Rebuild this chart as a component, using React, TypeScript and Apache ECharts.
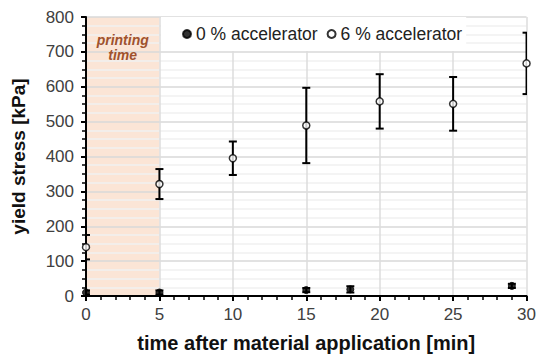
import React, { useEffect, useRef } from "react";
import * as echarts from "echarts";

// time [min] and yield stress [kPa] with symmetric error (±)
const time0 = [0, 5, 15, 18, 29];
const stress0 = [10, 10, 17, 19, 29];
const err0 = [6, 6, 6, 9, 6];

const time6 = [0, 5, 10, 15, 20, 25, 30];
const stress6 = [140, 321, 395, 489, 558, 551, 667];
const err6 = [35, 43, 48, 108, 78, 77, 88];

const printingRange = [0, 5];
const printingLabel = "printing\ntime";
const seriesNames = ["0 % accelerator", "6 % accelerator"];
const xTitle = "time after material application [min]";
const yTitle = "yield stress [kPa]";

const FONT = "'Liberation Sans', Arial, Helvetica, sans-serif";
const Y_MAX = 800;

export default function App() {
  const ref = useRef<HTMLDivElement>(null);
  useEffect(() => {
    if (!ref.current) return;
    const chart = echarts.init(ref.current, null, { renderer: "svg" });

    const errRender = (params: any, api: any) => {
      const x = api.value(0);
      const y = api.value(1);
      const e = api.value(2);
      const top = api.coord([x, y + e]);
      const bot = api.coord([x, y - e]);
      const hw = 4;
      const st = { stroke: "#000", lineWidth: 2 };
      return {
        type: "group",
        children: [
          { type: "line", shape: { x1: top[0], y1: top[1], x2: bot[0], y2: bot[1] }, style: st },
          { type: "line", shape: { x1: top[0] - hw, y1: top[1], x2: top[0] + hw, y2: top[1] }, style: st },
          { type: "line", shape: { x1: bot[0] - hw, y1: bot[1], x2: bot[0] + hw, y2: bot[1] }, style: st },
        ],
      };
    };

    chart.setOption({
      animation: false,
      grid: { left: 86, right: 9, top: 17, bottom: 65 },
      legend: {
        data: seriesNames,
        left: 161,
        top: 17,
        padding: [8, 4, 8, 21],
        backgroundColor: "#ffffff",
        itemWidth: 8,
        itemHeight: 8,
        itemGap: 9,
        icon: "circle",
        textStyle: { fontFamily: FONT, fontSize: 17.5, color: "#222" },
      },
      xAxis: {
        type: "value",
        min: 0,
        max: 30,
        interval: 5,
        name: xTitle,
        nameLocation: "middle",
        nameGap: 37,
        nameTextStyle: { fontFamily: FONT, fontSize: 20, fontWeight: "bold", color: "#111" },
        axisLine: { show: true, onZero: false, lineStyle: { color: "#000", width: 2 } },
        axisTick: { show: true, inside: false, length: 5, lineStyle: { color: "#000", width: 2 } },
        minorTick: { show: true, splitNumber: 5, length: 4, lineStyle: { color: "#000", width: 1.5 } },
        axisLabel: { fontFamily: FONT, fontSize: 17, color: "#404040", margin: 10 },
        splitLine: { show: true, lineStyle: { color: "#dcdcdc", width: 1.5 } },
        minorSplitLine: { show: false },
      },
      yAxis: {
        type: "value",
        min: 0,
        max: Y_MAX,
        interval: 100,
        name: yTitle,
        nameLocation: "middle",
        nameGap: 58,
        nameTextStyle: { fontFamily: FONT, fontSize: 19, fontWeight: "bold", color: "#111" },
        axisLine: { show: true, onZero: false, lineStyle: { color: "#000", width: 2 } },
        axisTick: { show: true, inside: false, length: 5, lineStyle: { color: "#000", width: 2 } },
        minorTick: { show: true, splitNumber: 4, length: 4, lineStyle: { color: "#000", width: 1.5 } },
        axisLabel: { fontFamily: FONT, fontSize: 17, color: "#404040", margin: 12 },
        splitLine: { show: true, lineStyle: { color: "#d9d9d9", width: 1.5 } },
        minorSplitLine: { show: true, lineStyle: { color: "#f0f0f0", width: 1.5 } },
      },
      series: [
        {
          type: "custom",
          name: "shade",
          z: -1,
          silent: true,
          data: [printingRange],
          encode: { x: [0, 1] },
          renderItem: (params: any, api: any) => {
            const p1 = api.coord([api.value(0), Y_MAX]);
            const p2 = api.coord([api.value(1), 0]);
            return {
              type: "rect",
              shape: { x: p1[0], y: p1[1], width: p2[0] - p1[0], height: p2[1] - p1[1] },
              style: { fill: "#fbe5d6" },
            };
          },
        },
        {
          type: "custom",
          name: "shadeLabel",
          z: 5,
          silent: true,
          data: [[(printingRange[0] + printingRange[1]) / 2, 712]],
          encode: { x: 0, y: 1 },
          renderItem: (params: any, api: any) => {
            const p = api.coord([api.value(0), api.value(1)]);
            return {
              type: "text",
              x: p[0],
              y: p[1],
              style: {
                text: printingLabel,
                fill: "#a0522d",
                font: `italic bold 14px ${FONT}`,
                align: "center",
                verticalAlign: "middle",
                lineHeight: 15,
              },
            };
          },
        },
        {
          type: "custom",
          name: "err0",
          z: 2,
          clip: true,
          data: time0.map((t, i) => [t, stress0[i], err0[i]]),
          encode: { x: 0, y: 1 },
          renderItem: errRender,
        },
        {
          type: "custom",
          name: "err6",
          z: 2,
          clip: true,
          data: time6.map((t, i) => [t, stress6[i], err6[i]]),
          encode: { x: 0, y: 1 },
          renderItem: errRender,
        },
        {
          type: "scatter",
          name: seriesNames[0],
          z: 3,
          symbol: "circle",
          symbolSize: 7,
          itemStyle: { color: "#000", borderColor: "#000", borderWidth: 1 },
          data: time0.map((t, i) => [t, stress0[i]]),
        },
        {
          type: "scatter",
          name: seriesNames[1],
          z: 3,
          symbol: "circle",
          symbolSize: 7,
          itemStyle: { color: "#fff", borderColor: "#000", borderWidth: 1.5 },
          data: time6.map((t, i) => [t, stress6[i]]),
        },
      ],
    });
    return () => chart.dispose();
  }, []);
  return <div ref={ref} style={{ width: 539, height: 361, position: "absolute", left: 0, top: 0 }} />;
}
